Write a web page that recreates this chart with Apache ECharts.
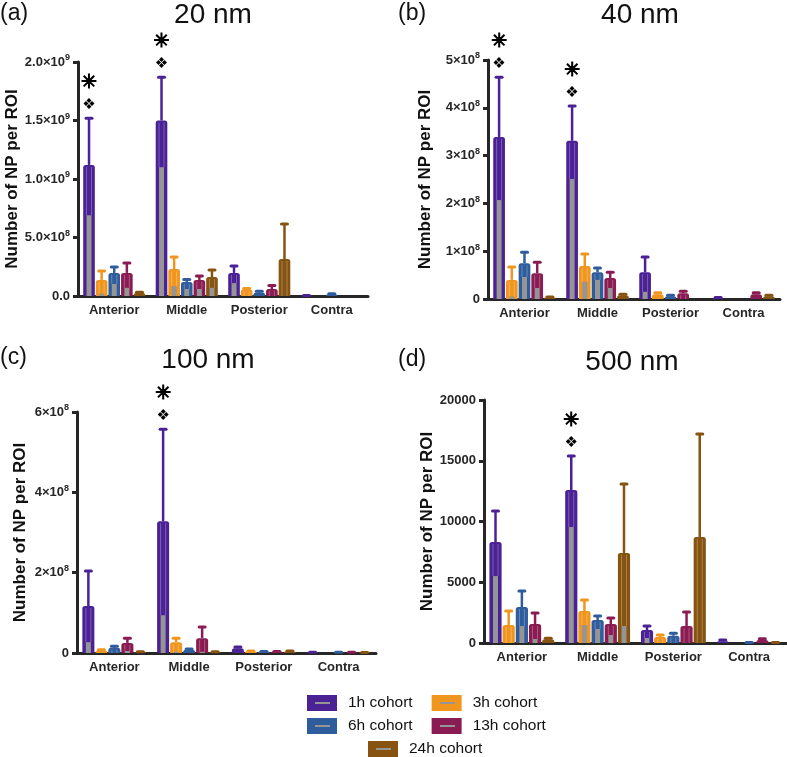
<!DOCTYPE html>
<html lang="en">
<head>
    <meta charset="UTF-8">
    <title>NP per ROI</title>
    <script src="https://cdn.jsdelivr.net/npm/echarts@6.0.0/dist/echarts.min.js"></script>
    <style>
        html, body { margin: 0; padding: 0; background: #fff; }
        #viz { width: 787px; height: 757px; }
    </style>
</head>
<body>
    <div id="viz"></div>
    <script>
        const categories = ['Anterior', 'Middle', 'Posterior', 'Contra'];
        const cohorts = ['1h cohort', '3h cohort', '6h cohort', '13h cohort', '24h cohort'];
        const cohortColors = ['#4b2196', '#f0961e', '#2f5c9c', '#8b1c53', '#865310'];
        const grayColor = '#959595';

        // rows = cohorts, columns = categories
        // bar top (mean), error bar top, grey inner column
        const nm20Mean = [
            [1.12e9, 1.50e9, 1.97e8, 3e6],
            [1.37e8, 2.31e8, 5.5e7, 0],
            [1.97e8, 1.20e8, 3.0e7, 1.5e7],
            [1.97e8, 1.37e8, 6.0e7, 0],
            [2.5e7, 1.62e8, 3.16e8, 0]
        ];
        const nm20Upper = [
            [1.52e9, 1.87e9, 2.56e8, 4e6],
            [2.14e8, 3.33e8, 6.5e7, 0],
            [2.48e8, 1.40e8, 4.0e7, 2.0e7],
            [2.82e8, 1.71e8, 9.0e7, 0],
            [3.2e7, 2.22e8, 6.15e8, 0]
        ];
        const nm20Gray = [
            [6.9e8, 1.10e9, 1.1e8, 0],
            [2e7, 8.5e7, 0, 0],
            [1.03e8, 6e7, 0, 0],
            [7e7, 6e7, 0, 0],
            [0, 7e7, 0, 0]
        ];
        const nm20Marked = [0, 1];
        const nm20Ticks = ['0.0', '5.0×10^8', '1.0×10^9', '1.5×10^9', '2.0×10^9'];

        const nm40Mean = [
            [3.39e8, 3.31e8, 5.6e7, 2e6],
            [4.0e7, 6.9e7, 1.0e7, 0],
            [7.5e7, 5.6e7, 6e6, 0],
            [5.4e7, 4.4e7, 1.2e7, 1.0e7],
            [3e6, 8e6, 0, 6e6]
        ];
        const nm40Upper = [
            [4.64e8, 4.04e8, 8.8e7, 3e6],
            [6.7e7, 9.4e7, 1.3e7, 0],
            [9.8e7, 6.5e7, 8e6, 0],
            [7.7e7, 5.6e7, 1.6e7, 1.3e7],
            [4e6, 1.0e7, 0, 8e6]
        ];
        const nm40Gray = [
            [2.07e8, 2.51e8, 1.5e7, 0],
            [5e6, 3.6e7, 0, 0],
            [4.6e7, 4.0e7, 0, 0],
            [2.3e7, 2.3e7, 0, 0],
            [0, 0, 0, 0]
        ];
        const nm40Marked = [0, 1];
        const nm40Ticks = ['0', '1×10^8', '2×10^8', '3×10^8', '4×10^8', '5×10^8'];

        const nm100Mean = [
            [1.17e8, 3.28e8, 1.2e7, 1e6],
            [6e6, 2.7e7, 4e6, 0],
            [1.3e7, 8e6, 3e6, 1e6],
            [2.5e7, 3.7e7, 3e6, 1e6],
            [2e6, 2e6, 4e6, 1e6]
        ];
        const nm100Upper = [
            [2.04e8, 5.57e8, 1.5e7, 2e6],
            [8e6, 3.7e7, 5e6, 0],
            [1.7e7, 1.0e7, 4e6, 2e6],
            [3.7e7, 6.5e7, 4e6, 2e6],
            [3e6, 3e6, 5e6, 1e6]
        ];
        const nm100Gray = [
            [2.7e7, 9.4e7, 0, 0],
            [0, 3e6, 0, 0],
            [0, 0, 0, 0],
            [5e6, 3e6, 0, 0],
            [0, 0, 0, 0]
        ];
        const nm100Marked = [1];
        const nm100Ticks = ['0', '2×10^8', '4×10^8', '6×10^8'];

        const nm500Mean = [
            [8310, 12590, 1070, 150],
            [1480, 2630, 500, 0],
            [2960, 1890, 600, 30],
            [1560, 1560, 1400, 250],
            [300, 7410, 8720, 30]
        ];
        const nm500Upper = [
            [10860, 15390, 1400, 250],
            [2630, 3540, 650, 0],
            [4280, 2220, 800, 40],
            [2470, 2060, 2550, 350],
            [400, 13090, 17200, 40]
        ];
        const nm500Gray = [
            [5510, 9550, 410, 0],
            [0, 1480, 0, 0],
            [1400, 1150, 0, 0],
            [330, 660, 0, 0],
            [0, 1400, 0, 0]
        ];
        const nm500Marked = [1];
        const nm500Ticks = ['0', '5000', '10000', '15000', '20000'];

        const font = 'Liberation Sans, Arial, Helvetica, sans-serif';
        const ink = '#262626';

        const panels = [
            { tag: '(a)', title: '20 nm', mean: nm20Mean, upper: nm20Upper, gray: nm20Gray, marked: nm20Marked,
              ticks: nm20Ticks, max: 2e9, interval: 5e8,
              grid: { left: 78, top: 62, width: 290, height: 234 }, nameGap: 56,
              tagPos: [0, 2], titlePos: [213, 1] },
            { tag: '(b)', title: '40 nm', mean: nm40Mean, upper: nm40Upper, gray: nm40Gray, marked: nm40Marked,
              ticks: nm40Ticks, max: 5e8, interval: 1e8,
              grid: { left: 488, top: 60, width: 292, height: 239 }, nameGap: 54,
              tagPos: [398, 2], titlePos: [640, 1] },
            { tag: '(c)', title: '100 nm', mean: nm100Mean, upper: nm100Upper, gray: nm100Gray, marked: nm100Marked,
              ticks: nm100Ticks, max: 6e8, interval: 2e8,
              grid: { left: 77, top: 412, width: 299, height: 241 }, nameGap: 48,
              tagPos: [0, 346], titlePos: [208, 346] },
            { tag: '(d)', title: '500 nm', mean: nm500Mean, upper: nm500Upper, gray: nm500Gray, marked: nm500Marked,
              ticks: nm500Ticks, max: 20000, interval: 5000,
              grid: { left: 484, top: 400, width: 303, height: 243 }, nameGap: 45,
              tagPos: [398, 348], titlePos: [632, 348] }
        ];

        const tickText = (label) => {
            const parts = label.split('^');
            return parts.length > 1 ? '{m|' + parts[0] + '}{s|' + parts[1] + '}' : '{m|' + label + '}';
        };

        const makeRender = (k) => (params, api) => {
            const cat = api.value(0);
            const mean = api.value(1);
            const upper = api.value(2);
            const gray = api.value(3);
            const marked = api.value(4);
            const color = cohortColors[k];
            const band = api.size([1, 0])[0];
            const bw = band * 0.87 / 5;
            const base = api.coord([cat, 0]);
            const cx = base[0] + (k - 2) * bw;
            const y0 = base[1];
            const yTop = api.coord([cat, mean])[1];
            const yErr = api.coord([cat, upper])[1];
            const yGray = api.coord([cat, gray])[1];
            const h = y0 - yTop;
            const kids = [];
            if (h > 0.3) {
                kids.push({ type: 'rect', shape: { x: cx - bw / 2 + 0.5, y: yTop, width: bw - 1, height: h, r: [Math.min(2.5, h), Math.min(2.5, h), 0, 0] },
                    style: { fill: color } });
            }
            if (y0 - yGray > 0.5) {
                kids.push({ type: 'rect', shape: { x: cx - 2.5, y: yGray, width: 5, height: y0 - yGray }, style: { fill: grayColor } });
            }
            if (yGray - yTop > 5) {
                [-2.5, 2.5].forEach(dx => kids.push({ type: 'line',
                    shape: { x1: cx + dx, y1: yTop + 2, x2: cx + dx, y2: yGray },
                    style: { stroke: 'rgba(255,255,255,0.28)', lineWidth: 1 } }));
            }
            if (upper > 0) {
                kids.push({ type: 'line', shape: { x1: cx, y1: yTop, x2: cx, y2: yErr }, style: { stroke: color, lineWidth: 2.5 } });
                kids.push({ type: 'line', shape: { x1: cx - 3, y1: yErr, x2: cx + 3, y2: yErr },
                    style: { stroke: color, lineWidth: 3, lineCap: 'round' } });
            }
            if (marked) {
                kids.push({ type: 'text', style: { text: '❖', x: cx, y: yErr - 13, fill: '#000',
                    font: '15px DejaVu Sans', align: 'center', verticalAlign: 'middle' } });
                kids.push({ type: 'text', style: { text: '✳', x: cx, y: yErr - 35, fill: '#000',
                    stroke: '#000', lineWidth: 1.1,
                    font: '19px DejaVu Sans', align: 'center', verticalAlign: 'middle' } });
            }
            return { type: 'group', children: kids };
        };

        const titles = [];
        const grids = [];
        const xAxes = [];
        const yAxes = [];
        const series = [];

        panels.forEach((p, pi) => {
            titles.push({ text: p.tag, left: p.tagPos[0], top: p.tagPos[1], padding: 0,
                textStyle: { fontFamily: font, fontSize: 23, fontWeight: 'normal', color: '#111' } });
            titles.push({ text: p.title, left: p.titlePos[0], top: p.titlePos[1], padding: 0, textAlign: 'center',
                textStyle: { fontFamily: font, fontSize: 28, fontWeight: 'normal', color: '#111' } });
            grids.push(Object.assign({ outerBoundsMode: 'none', containLabel: false }, p.grid));
            xAxes.push({
                type: 'category', gridIndex: pi, data: categories,
                axisLine: { lineStyle: { color: ink, width: 3 } },
                axisTick: { alignWithLabel: true, length: 5, lineStyle: { color: ink, width: 3 } },
                axisLabel: { interval: 0, color: ink, fontFamily: font, fontWeight: 'bold', fontSize: 13, margin: 8 },
                splitLine: { show: false }
            });
            yAxes.push({
                type: 'value', gridIndex: pi, min: 0, max: p.max, interval: p.interval,
                name: 'Number of NP per ROI', nameLocation: 'middle', nameGap: p.nameGap,
                nameTextStyle: { color: '#111', fontFamily: font, fontWeight: 'bold', fontSize: 17 },
                axisLine: { show: true, lineStyle: { color: ink, width: 3 } },
                axisTick: { show: true, length: 5, lineStyle: { color: ink, width: 3 } },
                splitLine: { show: false },
                axisLabel: {
                    margin: 8,
                    formatter: (v) => tickText(p.ticks[Math.round(v / p.interval)]),
                    rich: {
                        m: { color: ink, fontFamily: font, fontWeight: 'bold', fontSize: 13 },
                        s: { color: ink, fontFamily: font, fontWeight: 'bold', fontSize: 9, padding: [0, 0, 8, 0] }
                    }
                }
            });
            cohorts.forEach((name, k) => {
                series.push({
                    type: 'custom', name, xAxisIndex: pi, yAxisIndex: pi,
                    itemStyle: { color: cohortColors[k] },
                    renderItem: makeRender(k),
                    encode: { x: 0, y: [1, 2] },
                    clip: false,
                    data: categories.map((c, i) => [i, p.mean[k][i], p.upper[k][i], p.gray[k][i],
                        (k === 0 && p.marked.includes(i)) ? 1 : 0])
                });
            });
        });

        // legend: 2 + 2 + 1 rows
        const legendRows = [[cohorts[0], cohorts[1]], [cohorts[2], cohorts[3]], [cohorts[4]]];
        const legendLeft = [307, 307, 368];
        const legendTop = [695, 718, 741];
        const legends = legendRows.map((row, r) => ({
            data: row, left: legendLeft[r], top: legendTop[r], padding: 0,
            itemWidth: 30, itemHeight: 16, itemGap: 19, icon: 'rect',
            selectedMode: false,
            textStyle: { fontFamily: font, fontSize: 15.5, color: '#111', padding: [0, 0, 0, 6] }
        }));
        const legendMarks = [];
        const colX = [[307, 432], [307, 432], [368]];
        colX.forEach((xs, r) => xs.forEach(x => legendMarks.push({
            type: 'line', z: 100,
            shape: { x1: x + 8, y1: legendTop[r] + 8, x2: x + 23, y2: legendTop[r] + 8 },
            style: { stroke: grayColor, lineWidth: 2 }
        })));

        const option = {
            animation: false,
            backgroundColor: '#fff',
            textStyle: { fontFamily: font },
            title: titles,
            legend: legends,
            grid: grids,
            xAxis: xAxes,
            yAxis: yAxes,
            series,
            graphic: legendMarks
        };

        const chart = echarts.init(document.getElementById('viz'), null, { renderer: 'canvas' });
        chart.setOption(option);
        window.onresize = () => chart.resize();
    </script>
</body>
</html>
